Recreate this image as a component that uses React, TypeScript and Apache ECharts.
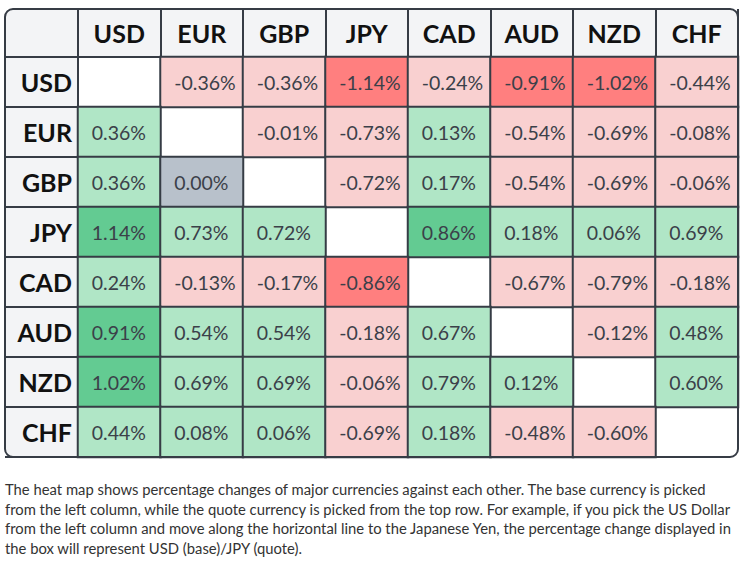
import React, { useEffect, useRef } from "react";
import * as echarts from "echarts";

// Currencies in table order (base down the left, quote across the top)
const currencies = ["USD", "EUR", "GBP", "JPY", "CAD", "AUD", "NZD", "CHF"];

// Percentage change of base/quote; null on the diagonal
const usdRow = [null, -0.36, -0.36, -1.14, -0.24, -0.91, -1.02, -0.44];
const eurRow = [0.36, null, -0.01, -0.73, 0.13, -0.54, -0.69, -0.08];
const gbpRow = [0.36, 0.0, null, -0.72, 0.17, -0.54, -0.69, -0.06];
const jpyRow = [1.14, 0.73, 0.72, null, 0.86, 0.18, 0.06, 0.69];
const cadRow = [0.24, -0.13, -0.17, -0.86, null, -0.67, -0.79, -0.18];
const audRow = [0.91, 0.54, 0.54, -0.18, 0.67, null, -0.12, 0.48];
const nzdRow = [1.02, 0.69, 0.69, -0.06, 0.79, 0.12, null, 0.6];
const chfRow = [0.44, 0.08, 0.06, -0.69, 0.18, -0.48, -0.6, null];

const rows = [usdRow, eurRow, gbpRow, jpyRow, cadRow, audRow, nzdRow, chfRow];

const footnote = [
  "The heat map shows percentage changes of major currencies against each other. The base currency is picked",
  "from the left column, while the quote currency is picked from the top row. For example, if you pick the US Dollar",
  "from the left column and move along the horizontal line to the Japanese Yen, the percentage change displayed in",
  "the box will represent USD (base)/JPY (quote).",
];

const LINE = "#363c45";
const HEAD_BG = "#f3f4f6";
const FONT = "Lato, 'Noto Sans', sans-serif";

// colour bands for the cells
const colorBands = [
  { lte: -0.8, color: "#ff7f7f" },
  { gt: -0.8, lt: 0, color: "#f9d0d0" },
  { value: 0, color: "#b8c1cb" },
  { gt: 0, lt: 0.8, color: "#b0e6c6" },
  { gte: 0.8, color: "#63cb92" },
];

// table frame
const TABLE_X = 5;
const TABLE_Y = 9;
const TABLE_R = 738;
const TABLE_B = 457;
const GRID_LEFT = 78;
const GRID_TOP = 57;

export default function App() {
  const ref = useRef<HTMLDivElement>(null);

  useEffect(() => {
    document.body.style.margin = "0";
    if (!ref.current) return;
    const chart = echarts.init(ref.current, undefined, { renderer: "svg" });

    const data: any[] = [];
    rows.forEach((row, y) => {
      row.forEach((v, x) => {
        if (v === null) return;
        data.push([x, y, v]);
      });
    });

    chart.setOption({
      animation: false,
      grid: {
        left: GRID_LEFT,
        top: GRID_TOP,
        width: TABLE_R - GRID_LEFT,
        height: TABLE_B - GRID_TOP,
        containLabel: false,
      },
      visualMap: {
        type: "piecewise",
        show: false,
        dimension: 2,
        pieces: colorBands,
      },
      xAxis: {
        type: "category",
        position: "top",
        data: currencies,
        axisLine: { show: true, lineStyle: { color: LINE, width: 2 } },
        axisTick: {
          show: true,
          inside: false,
          length: GRID_TOP - TABLE_Y,
          lineStyle: { color: LINE, width: 2 },
        },
        axisLabel: {
          margin: 24,
          verticalAlign: "middle",
          color: "#111",
          fontFamily: FONT,
          fontWeight: "bold",
          fontSize: 25,
        },
        splitLine: { show: false },
      },
      yAxis: {
        type: "category",
        inverse: true,
        data: currencies,
        axisLine: { show: true, lineStyle: { color: LINE, width: 2 } },
        axisTick: {
          show: true,
          inside: false,
          length: GRID_LEFT - TABLE_X,
          lineStyle: { color: LINE, width: 2 },
        },
        axisLabel: {
          margin: 6,
          color: "#111",
          fontFamily: FONT,
          fontWeight: "bold",
          fontSize: 25,
        },
        splitLine: { show: false },
      },
      graphic: [
        {
          type: "rect",
          z: -10,
          shape: { x: TABLE_X, y: TABLE_Y, width: TABLE_R - TABLE_X, height: TABLE_B - TABLE_Y, r: 8 },
          style: { fill: HEAD_BG },
        },
        {
          type: "rect",
          z: -9,
          shape: { x: GRID_LEFT, y: GRID_TOP, width: TABLE_R - GRID_LEFT, height: TABLE_B - GRID_TOP },
          style: { fill: "#ffffff" },
        },
        {
          type: "rect",
          z: 100,
          shape: { x: TABLE_X, y: TABLE_Y, width: TABLE_R - TABLE_X, height: TABLE_B - TABLE_Y, r: 8 },
          style: { fill: null, stroke: LINE, lineWidth: 2 },
        },
        {
          type: "text",
          left: 5,
          top: 479,
          style: {
            text: footnote.join("\n"),
            fill: "#333333",
            font: `14.8px ${FONT}`,
            lineHeight: 19.7,
          },
        },
      ],
      series: [
        {
          type: "heatmap",
          data,
          itemStyle: { borderColor: LINE, borderWidth: 2 },
          label: {
            show: true,
            position: "insideLeft",
            distance: 15,
            color: "#3b4049",
            fontFamily: FONT,
            fontSize: 19.5,
            formatter: (p: any) => `${p.value[2].toFixed(2)}%`,
          },
          emphasis: { disabled: true },
        },
      ],
    });

    return () => chart.dispose();
  }, []);

  return <div ref={ref} style={{ width: 744, height: 570 }} />;
}
